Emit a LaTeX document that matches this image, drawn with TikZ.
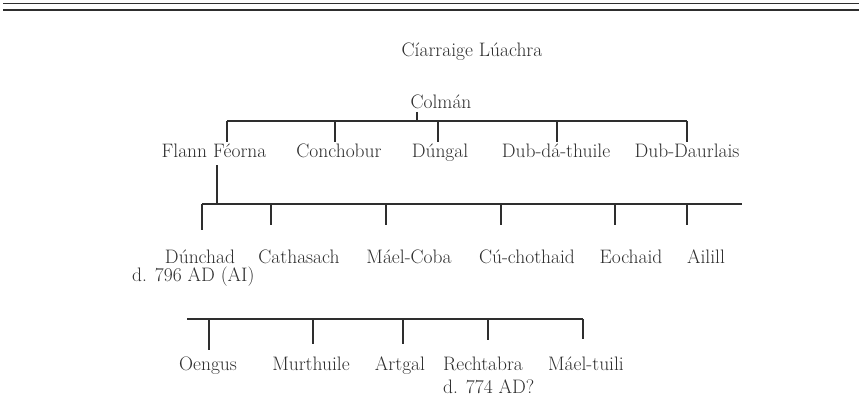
\documentclass[tikz,border=0pt]{standalone}
\definecolor{ink}{HTML}{2E2E2E}
\begin{document}
\begin{tikzpicture}[x=1pt,y=-1pt,
    person/.style={anchor=base,inner sep=0pt,text height=16pt,text depth=5pt,
      text=ink,font=\fontsize{19.5}{23}\selectfont},
    note/.style={person,anchor=base west},
    line/.style={draw=ink,line width=1.3pt}]
\useasboundingbox (0,0) rectangle (859,414);

% double rule at the top
\draw[line] (3,3.5) -- (859,3.5);
\draw[line] (3,10) -- (859,10);

% tribe and root
\node[person] (tribe) at (472,57) {Cíarraige Lúachra};
\node[person] (colman) at (441,109) {Colmán};

% sons of Colman
\node[person] (flann) at (214,158) {Flann Féorna};
\node[person] (conchobur) at (339,158) {Conchobur};
\node[person] (dungal) at (440,158) {Dúngal};
\node[person] (dubda) at (556,158) {Dub-dá-thuile};
\node[person] (dubdaur) at (687,158) {Dub-Daurlais};

\coordinate (bar1w) at (227,121);
\coordinate (bar1e) at (687,121);
\coordinate (stem1) at (417,121);
\draw[line,shorten <=3pt] (colman.base -| stem1) -- (stem1);
\draw[line] (bar1w) -- (bar1e);
\foreach \n/\x in {flann/227,conchobur/335,dungal/438,dubda/557,dubdaur/687}
  \draw[line] (\x,121) -- (\x,121 |- \n.north);

% sons of Flann Feorna
\node[person] (dunchad) at (200,263) {Dúnchad};
\node[note] (dunchadd) at (132,281) {d. 796 AD (AI)};
\node[person] (cathasach) at (299,263) {Cathasach};
\node[person] (maelcoba) at (409,263) {Máel-Coba};
\node[person] (cuchothaid) at (527,263) {Cú-chothaid};
\node[person] (eochaid) at (631,263) {Eochaid};
\node[person] (ailill) at (706,263) {Ailill};

\coordinate (bar2w) at (202,204);
\coordinate (bar2e) at (742,204);
\coordinate (stem2) at (217,204);
\draw[line,shorten <=2pt] (flann.south -| stem2) -- (stem2);
\draw[line] (bar2w) -- (bar2e);
\foreach \n/\x/\s in {dunchad/202/17,cathasach/271/22,maelcoba/386/22,
    cuchothaid/501/22,eochaid/615/22,ailill/687/22}
  \draw[line,shorten >=\s pt] (\x,204) -- (\x,204 |- \n.north);

% third group
\node[person] (oengus) at (208,370) {Oengus};
\node[person] (murthuile) at (311,370) {Murthuile};
\node[person] (artgal) at (400,370) {Artgal};
\node[note] (rechtabra) at (443,370) {Rechtabra};
\node[note] (rechtabrad) at (443,393) {d. 774 AD?};
\node[person] (maeltuili) at (586,370) {Máel-tuili};

\coordinate (bar3w) at (187,319);
\coordinate (bar3e) at (583,319);
\draw[line] (bar3w) -- (bar3e);
\foreach \n/\x/\s in {oengus/209/4,murthuile/313/10,artgal/403/10,
    rechtabra/488/14,maeltuili/583/15}
  \draw[line,shorten >=\s pt] (\x,319) -- (\x,319 |- \n.north);
\end{tikzpicture}
\end{document}
